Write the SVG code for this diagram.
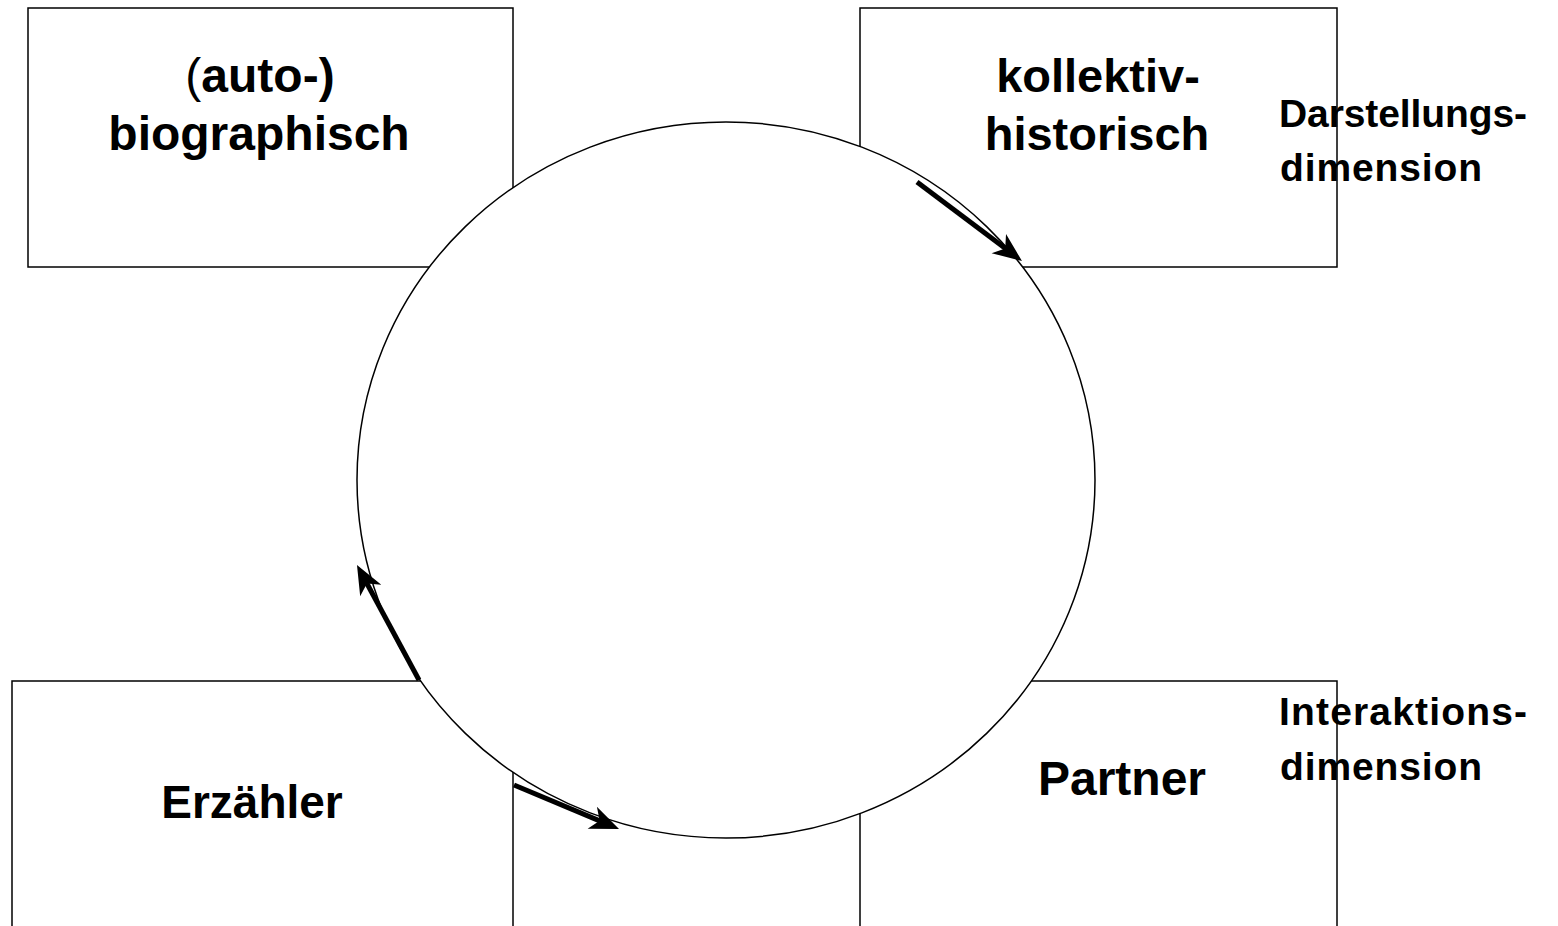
<svg xmlns="http://www.w3.org/2000/svg" width="1558" height="926" viewBox="0 0 1558 926">
  <style>
    .box { fill: #ffffff; stroke: #000000; stroke-width: 1.5; }
    .ring { fill: #ffffff; stroke: #000000; stroke-width: 1.5; }
    .lbl { font-family: "Liberation Sans", Arial, sans-serif; font-weight: bold; font-size: 46px; fill: #000000; text-anchor: middle; }
    .big { font-size: 48px; }
    .mid { font-size: 47px; }
    .dim { font-family: "Liberation Sans", Arial, sans-serif; font-weight: bold; font-size: 39px; fill: #000000; }
    .arr { stroke: #000000; stroke-width: 5; fill: none; marker-end: url(#head); }
  </style>
  <defs>
    <marker id="head" markerUnits="userSpaceOnUse" orient="auto" viewBox="-32 -15 36 30" refX="-19" refY="0" markerWidth="36" markerHeight="30" overflow="visible">
      <path d="M 0 0 L -29 -12 L -21 0 L -29 12 Z" fill="#000000"/>
    </marker>
  </defs>
  <rect width="1558" height="926" fill="#ffffff"/>

  <g id="box-autobiographisch">
    <rect class="box" x="28" y="8" width="485" height="259"/>
  </g>
  <g id="box-kollektiv">
    <rect class="box" x="860" y="8" width="477" height="259"/>
  </g>
  <g id="box-erzaehler">
    <rect class="box" x="12" y="681" width="501" height="260"/>
  </g>
  <g id="box-partner">
    <rect class="box" x="860" y="681" width="477" height="260"/>
  </g>

  <g id="circle">
    <ellipse class="ring" cx="726" cy="480" rx="369" ry="358"/>
  </g>

  <g id="connectors">
    <line class="arr" x1="917" y1="182" x2="1006.8" y2="249.6"/>
    <line class="arr" x1="419" y1="680" x2="366" y2="581.7"/>
    <line class="arr" x1="514" y1="785" x2="601.5" y2="821.6"/>
  </g>

  <g id="labels">
    <text class="lbl big" x="260" y="92"><tspan font-weight="normal">(</tspan>auto-)</text>
    <text class="lbl big" x="259" y="150">biographisch</text>
    <text class="lbl mid" x="1098" y="92">kollektiv-</text>
    <text class="lbl mid" x="1097" y="150">historisch</text>
    <text class="lbl" x="252" y="818">Erzähler</text>
    <text class="lbl big" x="1122" y="795">Partner</text>
    <text class="dim" x="1279" y="127" textLength="248" lengthAdjust="spacing">Darstellungs-</text>
    <text class="dim" x="1280" y="181" textLength="202" lengthAdjust="spacing">dimension</text>
    <text class="dim" x="1279" y="725" textLength="248" lengthAdjust="spacing">Interaktions-</text>
    <text class="dim" x="1280" y="780" textLength="202" lengthAdjust="spacing">dimension</text>
  </g>
</svg>
